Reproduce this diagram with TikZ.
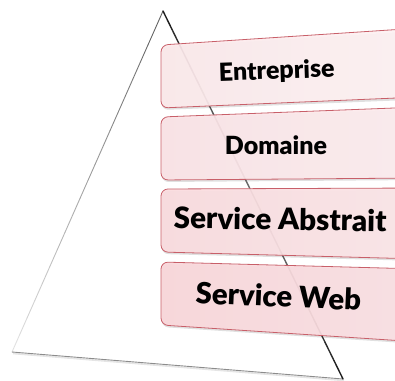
\documentclass[tikz,border=0pt]{standalone}
\usepackage{fontspec}
\setmainfont{Lato}[BoldFont={Lato Black}]
\usetikzlibrary{calc}
\definecolor{boxedge}{RGB}{200,95,105}
\definecolor{fA}{RGB}{252,232,234}
\definecolor{fAr}{RGB}{253,242,243}
\definecolor{fB}{RGB}{251,226,229}
\definecolor{fBr}{RGB}{252,236,238}
\definecolor{fC}{RGB}{250,219,222}
\definecolor{fCr}{RGB}{251,229,231}
\definecolor{fD}{RGB}{249,214,218}
\definecolor{fDr}{RGB}{250,224,227}
\tikzset{
  layerbox/.style={draw=boxedge, line width=0.8pt, rounded corners=7pt, fill opacity=0.93},
  boxshadow/.style={fill=black, opacity=0.12, rounded corners=7pt},
  layertext/.style={inner sep=0pt, anchor=base, font=\bfseries},
}
\begin{document}
\begin{tikzpicture}[x=1pt,y=-1pt]
\useasboundingbox (0,0) rectangle (395,380);
\clip (0,0) rectangle (395,380);
\coordinate (A) at (163,11);
\coordinate (L) at (12,352);
\coordinate (R) at (343,379);
% left edge, fading downwards
\foreach \i in {0,...,19}{
  \pgfmathsetmacro{\c}{62-50*\i/19}
  \pgfmathsetmacro{\s}{\i/20}
  \pgfmathsetmacro{\e}{(\i+1)/20}
  \draw[line width=0.9pt, color=black!\c, line cap=round] ($(A)!\s!(L)$) -- ($(A)!\e!(L)$);
}
% bottom edge
\draw[line width=1.6pt, color=black!10] ($(L)+(1,1.5)$) -- ($(R)+(1,1.5)$);
\draw[line width=0.9pt, color=black!45] (L) -- (R);
% right edge
\foreach \i in {0,...,19}{
  \pgfmathsetmacro{\c}{88-30*sin(180*\i/19)}
  \pgfmathsetmacro{\s}{\i/20}
  \pgfmathsetmacro{\e}{(\i+1)/20}
  \draw[line width=1.4pt, color=black!\c, line cap=round] ($(A)!\s!(R)$) -- ($(A)!\e!(R)$);
}
% boxes
\fill[boxshadow] (161.5,47) -- (161.5,110) -- (420,99.5) -- (420,31) -- cycle;
\shade[layerbox, left color=fA, right color=fAr] (420,28) -- (161,45) -- (161,108) -- (420,97) -- cycle;
\fill[boxshadow] (161.5,119) -- (161.5,182) -- (420,180) -- (420,109) -- cycle;
\shade[layerbox, left color=fB, right color=fBr] (420,107) -- (161,117) -- (161,180) -- (420,178) -- cycle;
\fill[boxshadow] (161.5,191) -- (161.5,254) -- (420,261) -- (420,190) -- cycle;
\shade[layerbox, left color=fC, right color=fCr] (420,188) -- (161,189) -- (161,252) -- (420,259) -- cycle;
\fill[boxshadow] (161.5,264) -- (161.5,327) -- (420,344) -- (420,270) -- cycle;
\shade[layerbox, left color=fD, right color=fDr] (420,269) -- (161,262) -- (161,325) -- (420,342) -- cycle;
% labels
\node[layertext, rotate=2, font=\bfseries\fontsize{25}{25}\selectfont] (t1) at (277,79) {Entreprise};
\node[layertext, font=\bfseries\fontsize{25}{25}\selectfont] (t2) at (276,154) {Domaine};
\node[layertext, rotate=-0.8, font=\bfseries\fontsize{29.6}{29.6}\selectfont] (t3) at (280,230) {Service Abstrait};
\node[layertext, rotate=-2.5, font=\bfseries\fontsize{29.3}{29.3}\selectfont] (t4) at (278,307) {Service Web};
\end{tikzpicture}
\end{document}
